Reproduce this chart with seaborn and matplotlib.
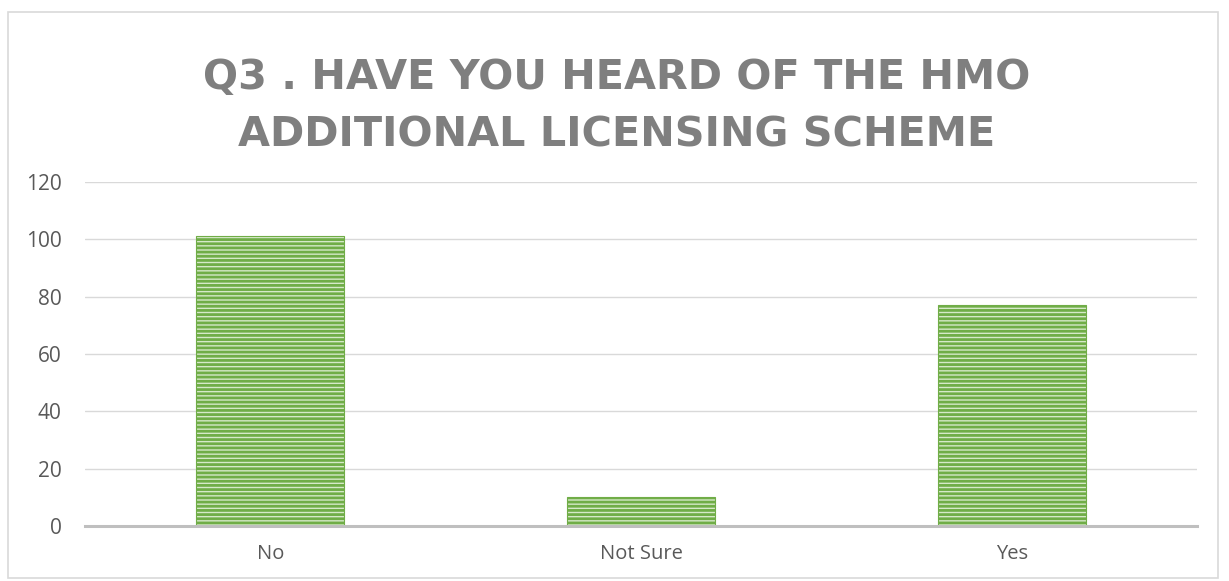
import matplotlib
matplotlib.use("Agg")
import matplotlib.pyplot as plt
from matplotlib.patches import Rectangle
import seaborn as sns
import pandas as pd

categories = ["No", "Not Sure", "Yes"]
counts = [101, 10, 77]
yticks = [0, 20, 40, 60, 80, 100, 120]
title = "Q3 . HAVE YOU HEARD OF THE HMO\nADDITIONAL LICENSING SCHEME"

sns.set_theme(style="white")
plt.rcParams['font.family'] = ['Open Sans', 'DejaVu Sans']
plt.rcParams['hatch.linewidth'] = 2.0

df = pd.DataFrame({"answer": categories, "count": counts})

fig = plt.figure(figsize=(12.29, 5.81), dpi=100)
ax = fig.add_axes([85/1229, 1-526/581, (1197-85)/1229, (526-182)/581])

sns.barplot(data=df, x="answer", y="count", ax=ax, width=0.40,
            color="#D6E9C9", edgecolor="#70AD47", linewidth=0.8, saturation=1)
for p in ax.patches:
    p.set_hatch("----")
    p.set_edgecolor("#70AD47")

ax.set_ylim(0, 120)
ax.set_yticks(yticks)
ax.set_yticklabels([str(v) for v in yticks])
ax.set_xlabel("")
ax.set_ylabel("")
ax.yaxis.grid(True, color="#D9D9D9", linewidth=1.0)
ax.set_axisbelow(True)
for s in ["top", "right", "left"]:
    ax.spines[s].set_visible(False)
ax.spines["bottom"].set_color("#BFBFBF")
ax.spines["bottom"].set_linewidth(2.2)
ax.spines["bottom"].set_zorder(5)
ax.tick_params(axis="y", length=0, pad=17, labelsize=15, labelcolor="#595959")
ax.tick_params(axis="x", length=0, pad=13, labelsize=14.5, labelcolor="#595959")

fig.text(617/1229, 1-107/581, title, ha="center", va="center", multialignment="center",
         fontsize=29.8, fontweight="bold", color="#7F7F7F", linespacing=1.55,
         family=["DejaVu Sans"])

fig.patches.append(Rectangle((8/1229, 1-578/581), (1218-8)/1229, (578-12)/581,
                             transform=fig.transFigure, fill=False,
                             edgecolor="#D9D9D9", linewidth=1.2))

fig.savefig("out.png", dpi=100)
